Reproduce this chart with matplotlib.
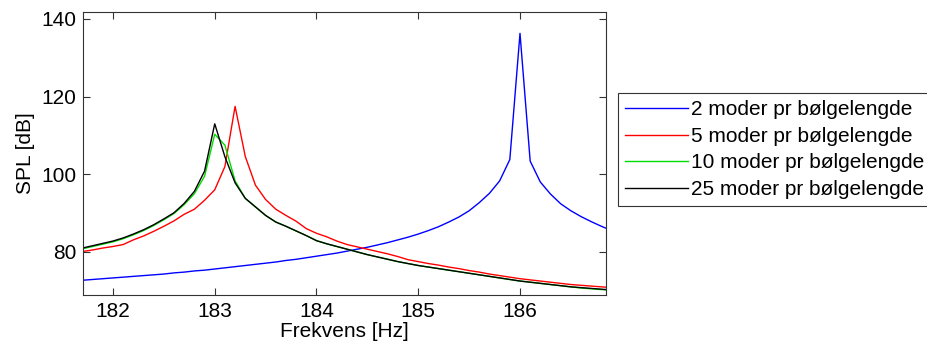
import numpy as np
import matplotlib
matplotlib.use('Agg')
import matplotlib.pyplot as plt

plt.rcParams['font.family'] = ['Liberation Sans', 'DejaVu Sans']

# frequency grid, 0.1 Hz steps
freq = np.round(np.arange(181.7, 186.95, 0.1), 1)

spl_2 = [72.7, 72.9, 73.1, 73.3, 73.5, 73.7, 73.9, 74.1, 74.3, 74.6,
         74.8, 75.1, 75.3, 75.6, 75.9, 76.2, 76.5, 76.8, 77.1, 77.4,
         77.8, 78.1, 78.5, 78.9, 79.3, 79.7, 80.2, 80.7, 81.2, 81.8,
         82.4, 83.1, 83.8, 84.6, 85.5, 86.5, 87.7, 89.0, 90.6, 92.7,
         95.1, 98.3, 103.8, 136.3, 103.4, 98.0, 94.9, 92.4, 90.6, 89.1,
         87.8, 86.6, 85.5]

spl_5 = [80.1, 80.5, 81.0, 81.4, 81.9, 83.1, 84.1, 85.3, 86.6, 88.0,
         89.7, 91.0, 93.3, 96.0, 102.0, 117.5, 104.6, 97.2, 93.5, 91.0,
         89.4, 87.9, 86.0, 84.8, 83.9, 82.8, 81.9, 81.3, 80.7, 80.1,
         79.5, 78.8, 78.0, 77.5, 77.0, 76.6, 76.1, 75.7, 75.2, 74.8,
         74.3, 73.9, 73.5, 73.1, 72.8, 72.5, 72.2, 71.9, 71.6, 71.4,
         71.2, 71.0, 70.8]

spl_10 = [80.8, 81.4, 82.0, 82.6, 83.4, 84.4, 85.5, 86.8, 88.3, 89.9,
          92.2, 95.0, 99.5, 110.3, 107.5, 98.3, 93.8, 91.6, 89.4, 87.7,
          86.6, 85.4, 84.2, 82.9, 82.1, 81.4, 80.7, 80.0, 79.3, 78.7,
          78.1, 77.5, 77.0, 76.5, 76.1, 75.7, 75.3, 74.9, 74.5, 74.1,
          73.7, 73.3, 72.9, 72.5, 72.2, 71.9, 71.6, 71.3, 71.0, 70.7,
          70.5, 70.3, 70.1]

spl_25 = [81.0, 81.6, 82.2, 82.8, 83.6, 84.6, 85.7, 87.0, 88.5, 90.1,
          92.5, 95.6, 100.8, 113.0, 104.5, 97.8, 93.8, 91.6, 89.4, 87.7,
          86.6, 85.4, 84.2, 82.9, 82.1, 81.4, 80.7, 80.0, 79.3, 78.7,
          78.1, 77.5, 77.0, 76.5, 76.1, 75.7, 75.3, 74.9, 74.5, 74.1,
          73.7, 73.3, 72.9, 72.5, 72.2, 71.9, 71.6, 71.3, 71.0, 70.8,
          70.6, 70.4, 70.2]

labels = ['2 moder pr bølgelengde', '5 moder pr bølgelengde',
          '10 moder pr bølgelengde', '25 moder pr bølgelengde']
colors = ['#0000ff', '#ff0000', '#00dd00', '#000000']

fig = plt.figure(figsize=(9.27, 3.49), dpi=100)
ax = fig.add_axes([0.0895, 0.1547, 0.5642, 0.8109])

for y, c, lab in zip([spl_2, spl_5, spl_10, spl_25], colors, labels):
    ax.plot(freq, y, color=c, lw=1.0, label=lab)

ax.set_xlim(181.705, 186.845)
ax.set_ylim(68.9, 141.8)
ax.set_xticks([182, 183, 184, 185, 186])
ax.set_yticks([80, 100, 120, 140])
ax.tick_params(direction='in', top=True, right=True, length=5, labelsize=15,
               color='#333333', width=0.8, pad=5)
for s in ax.spines.values():
    s.set_color('#333333')
    s.set_linewidth(0.8)
ax.set_xlabel('Frekvens [Hz]', fontsize=15, labelpad=1)
ax.set_ylabel('SPL [dB]', fontsize=15, labelpad=4)

leg = fig.legend(loc='upper left', bbox_to_anchor=(0.6667, 0.7335), fontsize=15,
                 frameon=True, fancybox=False, handlelength=3.0,
                 handletextpad=0.15, labelspacing=0.36, borderpad=0.35,
                 borderaxespad=0)
leg.get_frame().set_edgecolor('black')
leg.get_frame().set_linewidth(0.8)

fig.savefig('out.png', dpi=100)
